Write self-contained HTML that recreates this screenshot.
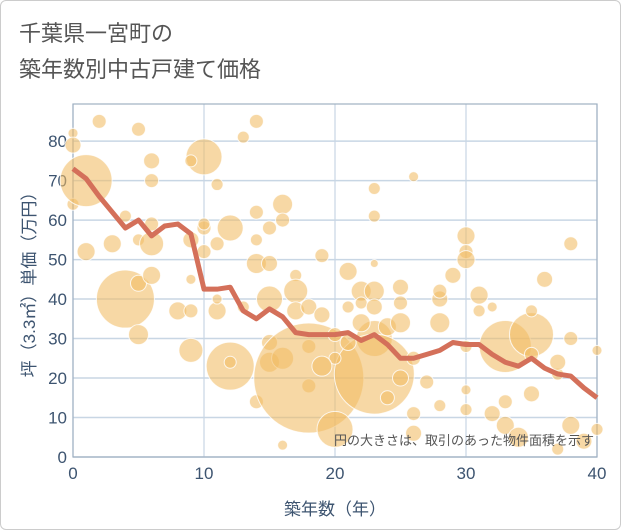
<!DOCTYPE html>
<html><head><meta charset="utf-8"><style>
body{margin:0;background:#fff;font-family:"Liberation Sans","Noto Sans CJK JP",sans-serif}
#wrap{position:relative;width:619px;height:528px;border:1px solid #ccc;border-radius:6px;overflow:hidden}
.t{position:absolute;left:18px;font-size:22px;color:#555}
</style></head><body>
<div id="wrap">
<div class="t" style="top:15px">千葉県一宮町の</div>
<div class="t" style="top:51px">築年数別中古戸建て価格</div>
<svg id="c" width="621" height="530" style="position:absolute;left:0;top:0"></svg>
</div>
<script>
const years=[0,1,2,3,4,5,6,7,8,9,10,11,12,13,14,15,16,17,18,19,20,21,22,23,24,25,26,27,28,29,30,31,32,33,34,35,36,37,38,39,40];
const avgPrice=[73,70.5,66,62,58,60,56,58.5,59,56.5,42.5,42.5,43,37,35,37.5,35.5,31.5,31,31,31,31.5,29.5,31,28.5,25,25,26,27,29,28.5,28.5,26,24,23,25,22.5,21,20.5,17.5,15];
const bubbleX=[0,0,0,1,2,1,3,4,4,5,5,5,5,6,6,6,6,6,8,9,9,9,9,10,9,10,10,10,11,11,11,11,12,12,12,13,13,14,14,14,14,15,15,15,14,15,15,16,16,16,17,17,17,18,18,18,16,18,19,20,21,22,22,21,23,23,23,23,23,23,23,24,24,25,25,25,25,26,26,26,27,28,28,28,29,30,30,30,30,30,31,32,33,33,33,32,35,35,35,35,36,37,37,38,38,40,38,39,34,26,28,37,40,31,30,22,21,20,20,19,19];
const bubbleY=[82,79,64,70,85,52,54,61,40,44,31,83,55,75,70,59,54,46,37,37,27,45,55,76,75,58,52,59,69,54,37,40,58,23,24,81,38,85,62,55,49,58,49,40,14,24,29,25,64,60,46,42,37,38,28,18,3,20,51,7,47,42,39,38,68,61,49,42,38,30,21,33,15,43,39,34,20,71,25,11,19,40,42,34,46,56,52,50,12,17,41,38,28,14,8,11,31,26,37,16,45,21,24,54,30,27,8,4,5,6,13,2,7,37,28,34,29,25,31,23,36];
const bubbleR=[5,8,6,26,7,9,9,6,29,8,10,7,6,8,7,7,12,9,9,7,12,5,8,18,6,7,7,6,6,7,9,5,13,24,6,6,6,7,7,6,10,7,8,13,7,10,8,11,10,7,6,12,9,8,7,7,5,55,7,18,9,10,6,6,6,6,4,10,8,18,40,9,7,8,7,10,8,5,7,7,7,8,7,10,8,9,7,9,6,5,9,5,26,7,9,8,22,7,6,8,8,6,8,7,7,5,9,8,10,8,6,6,6,6,6,9,8,6,7,10,8];
const yTicks=[0,10,20,30,40,50,60,70,80];
const xTicks=[0,10,20,30,40];
const L=72,R=596,T=103,B=456,ymax=89.4;
const sx=v=>L+(v/40)*(R-L), sy=v=>B-(v/ymax)*(B-T);
const svg=document.getElementById('c'),NS='http://www.w3.org/2000/svg';
function mk(t,a,p){const e=document.createElementNS(NS,t);for(const k in a)e.setAttribute(k,a[k]);(p||svg).appendChild(e);return e;}
yTicks.forEach(v=>{const l=mk('line',{x1:L,x2:R,y1:sy(v),y2:sy(v),stroke:'#c8d6e4','stroke-width':1.5});


const t=mk('text',{x:L-6,y:sy(v)+6,'text-anchor':'end','font-size':17,fill:'#3d5470'});t.textContent=v;

});
xTicks.forEach(v=>{const l=mk('line',{x1:sx(v),x2:sx(v),y1:T,y2:B,stroke:'#c8d6e4','stroke-width':1.2});


const t=mk('text',{x:sx(v),y:B+22,'text-anchor':'middle','font-size':17,fill:'#3d5470'});t.textContent=v;

});
const fr=mk('rect',{x:L,y:T,width:R-L,height:B-T,fill:'none',stroke:'#9fb0c2','stroke-width':1.2});


bubbleX.forEach((x,i)=>{const c=mk('circle',{cx:sx(x),cy:sy(bubbleY[i]),r:bubbleR[i],fill:'rgba(242,188,100,0.58)',stroke:'rgba(255,255,255,0.8)','stroke-width':1});

});
const p=mk('polyline',{points:years.map((x,i)=>sx(x)+','+sy(avgPrice[i])).join(' '),fill:'none',stroke:'#d4705a','stroke-width':5,'stroke-linejoin':'round'});


const n=mk('text',{x:593,y:444,'text-anchor':'end','font-size':13,fill:'#555'});n.textContent='円の大きさは、取引のあった物件面積を示す';


const xl=mk('text',{x:sx(20),y:514,'text-anchor':'middle','font-size':17,fill:'#3d5470'});xl.textContent='築年数（年）';


const yl=mk('text',{x:0,y:0,'text-anchor':'middle','font-size':17,fill:'#3d5470',transform:'translate(34,'+((T+B)/2)+') rotate(-90)'});yl.textContent='坪（3.3㎡）単価（万円）';


</script>
</body></html>
